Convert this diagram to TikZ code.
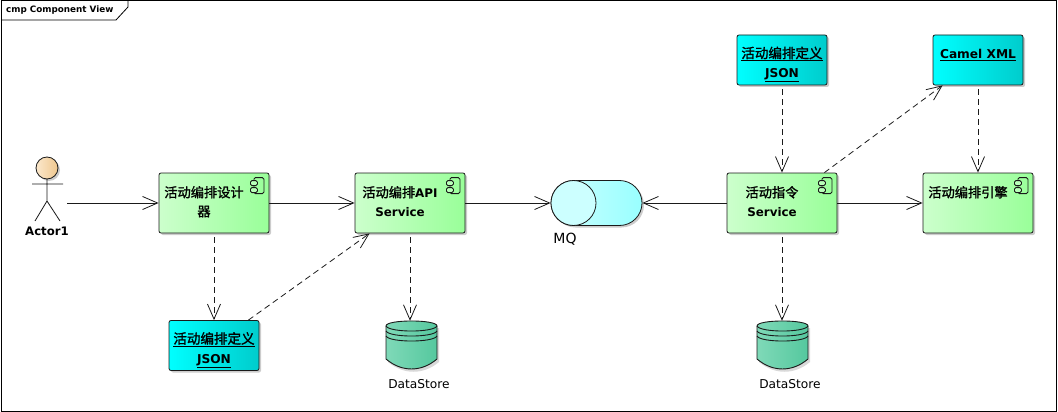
\documentclass[tikz,border=0pt]{standalone}
\usepackage{fontspec}
\setmainfont{DejaVu Sans}
\newfontfamily\cjk[Scale=1.11,BoldFont={Noto Sans CJK SC},BoldFeatures={FakeBold=1.5}]{Noto Sans CJK SC}
\usetikzlibrary{calc,arrows.meta,shadows,shapes.misc}
\definecolor{compleft}{HTML}{CCFFCC}
\definecolor{compright}{HTML}{99FF99}
\definecolor{artleft}{HTML}{00FFFF}
\definecolor{artright}{HTML}{00CCCC}
\definecolor{queueleft}{HTML}{CCFFFF}
\definecolor{queueright}{HTML}{99FFFF}
\definecolor{storeleft}{HTML}{7FD9B8}
\definecolor{storeright}{HTML}{55C89E}
\definecolor{headleft}{HTML}{FBE8CC}
\definecolor{headright}{HTML}{EFC78E}
\definecolor{edgeline}{HTML}{1A1A1A}
\newcommand{\complabel}[2]{\begin{tabular}{@{}c@{}}#1\\#2\end{tabular}\rule{20pt}{0pt}}
\newcommand{\artlabel}[2]{\raisebox{-4pt}[\height][\depth]{\begin{tabular}{@{}c@{}}#1\\#2\end{tabular}}}

\begin{document}
\begin{tikzpicture}[x=1pt,y=-1pt,
  boxshadow/.style={drop shadow={shadow xshift=2pt,shadow yshift=-2pt,fill=black,opacity=0.2}},
  component/.style={draw=edgeline, line width=0.8pt, rounded corners=2pt, boxshadow, left color=compleft, right color=compright, minimum width=110pt, minimum height=60pt, inner sep=0pt, font=\fontsize{11.9}{19}\selectfont\bfseries},
  artifact/.style={draw=edgeline, line width=0.8pt, rounded corners=2pt, boxshadow, left color=artleft, right color=artright, minimum width=90pt, minimum height=50pt, inner sep=0pt, font=\fontsize{12.2}{19.5}\selectfont\bfseries},
  caption/.style={inner sep=0pt, font=\fontsize{12.2}{14}\selectfont},
  flow/.style={-{Straight Barb[length=15pt,width=13pt]}, edgeline, line width=0.8pt},
  trace/.style={flow, dash pattern=on 6pt off 4pt, shorten <=4pt},
  compicon/.pic={
    \draw[edgeline, line width=0.8pt, rounded corners=1.5pt] (-15.5,5) rectangle (-5.5,21);
    \draw[edgeline, line width=0.8pt, rounded corners=1.5pt, fill=compleft!60!compright] (-19,8) rectangle (-12,13);
    \draw[edgeline, line width=0.8pt, rounded corners=1.5pt, fill=compleft!60!compright] (-19,15) rectangle (-12,20);
  },
  datastore/.pic={
    \fill[black, opacity=0.15] (-23.5,-17) -- (27.5,-17) -- (27.5,17) .. controls (12,30) and (-8,30) .. (-23.5,17) -- cycle;
    \draw[edgeline, line width=0.9pt, left color=storeleft, right color=storeright] (-25.5,-19) .. controls (-25.5,-25.7) and (25.5,-25.7) .. (25.5,-19) -- (25.5,14) .. controls (10,27.3) and (-10,27.3) .. (-25.5,14) -- cycle;
    \draw[edgeline, line width=0.9pt] (-25.5,-19) .. controls (-22,-12.3) and (22,-12.3) .. (25.5,-19);
    \draw[edgeline, line width=0.9pt] (-25.5,-14) .. controls (-22,-7.3) and (22,-7.3) .. (25.5,-14);
    \draw[edgeline, line width=0.9pt] (-25.5,-9) .. controls (-22,-2.3) and (22,-2.3) .. (25.5,-9);
  }
]
  \useasboundingbox (0,0) rectangle (1058,412);

  % frame
  \node[draw=black, line width=1pt, minimum width=1055pt, minimum height=410pt, inner sep=0pt] (frame) at (528.8,206) {};
  \node[inner sep=0pt, anchor=west, font=\fontsize{8.8}{11}\selectfont\bfseries] (frametitle) at (6,10.5) {cmp Component View};
  \draw[black, line width=0.8pt] (128,1) -- (128,7) -- (116,20) -- (1,20);

  % actor
  \draw[edgeline, line width=0.8pt] (47,179) -- (47,201) (32,184) -- (63,184) (35,221) -- (47,201) -- (60,221);
  \node[circle, draw=edgeline, line width=0.8pt, boxshadow, left color=headleft, right color=headright, minimum size=22pt, inner sep=0pt] (head) at (47,168) {};
  \node[caption, font=\fontsize{11.7}{14}\selectfont\bfseries] (actorname) at (47,231) {Actor1};
  \coordinate (actorout) at (67,203);

  % components
  \node[component] (designer) at (214,203) {\complabel{\cjk 活动编排设计}{\cjk 器}};
  \node[component] (api) at (410,203) {\complabel{{\cjk 活动编排}API}{Service}};
  \node[component] (command) at (782,203) {\complabel{\cjk 活动指令}{Service}};
  \node[component] (engine) at (978,203) {\complabel{\cjk 活动编排引擎}{~}};
  \pic at (designer.north east) {compicon};
  \pic at (api.north east) {compicon};
  \pic at (command.north east) {compicon};
  \pic at (engine.north east) {compicon};

  % artifacts
  \node[artifact] (jsonleft) at (214,345.5) {\artlabel{\underline{\cjk 活动编排定义}}{\underline{JSON}}};
  \node[artifact] (jsontop) at (782,60) {\artlabel{\underline{\cjk 活动编排定义}}{\underline{JSON}}};
  \node[artifact] (camel) at (978,60) {\artlabel{\underline{Camel XML}}{~}};

  % queue
  \node[rounded rectangle, draw=edgeline, line width=0.8pt, boxshadow, left color=queueleft, right color=queueright, minimum width=91pt, minimum height=45pt, inner sep=0pt] (mq) at (596.5,203) {};
  \node[circle, draw=edgeline, line width=0.8pt, fill=queueleft, minimum size=45pt, inner sep=0pt] (mqend) at (573.5,203) {};
  \node[caption, font=\fontsize{14}{16}\selectfont] (mqname) at (565,239) {MQ};

  % stores
  \node[inner sep=0pt, minimum width=51pt, minimum height=48pt] (storea) at (411.5,345) {};
  \node[inner sep=0pt, minimum width=51pt, minimum height=48pt] (storeb) at (782.5,345) {};
  \pic at (storea) {datastore};
  \pic at (storeb) {datastore};
  \node[caption] (storeaname) at (419,384) {DataStore};
  \node[caption] (storebname) at (790,384) {DataStore};

  % connectors
  \draw[flow] (actorout) -- (designer.west);
  \draw[flow] (designer.east) -- (api.west);
  \draw[flow] (api.east) -- (mq.west);
  \draw[flow] (command.west) -- (mq.east);
  \draw[flow] (command.east) -- (engine.west);
  \draw[trace] (designer.south) -- (jsonleft.north);
  \draw[trace, shorten <=0pt] ([xshift=-11pt]jsonleft.north east) -- ([xshift=15pt]api.south west);
  \draw[trace] (api.south) -- (api.south |- storea.north);
  \draw[trace] (jsontop.south) -- (command.north);
  \draw[trace, shorten <=0pt] ([xshift=-13pt]command.north east) -- ([xshift=10pt]camel.south west);
  \draw[trace] (camel.south) -- (engine.north);
  \draw[trace] (command.south) -- (command.south |- storeb.north);
\end{tikzpicture}
\end{document}
